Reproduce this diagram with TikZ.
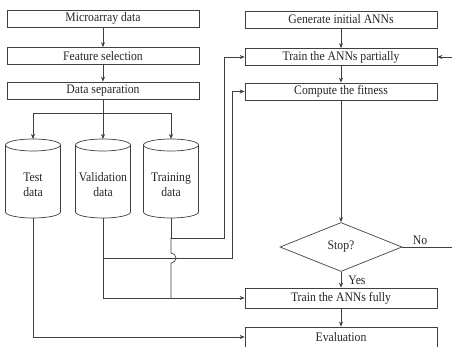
\documentclass[tikz,border=0pt]{standalone}
\usepackage{fontspec}
\setmainfont{Liberation Serif}[FakeStretch=0.9]
\usetikzlibrary{shapes.geometric,arrows.meta}
\newcommand{\drawcyl}[1]{%
  \draw[cylline] ({#1-27.5},145) -- ({#1-27.5},212) arc[start angle=180,end angle=0,x radius=27.5,y radius=6] -- ({#1+27.5},145);
  \draw[cylline] (#1,145) ellipse[x radius=27.5,y radius=6];
}
\begin{document}
\begin{tikzpicture}[x=1pt,y=-1pt,
  line/.style={draw=black!75, line width=0.7pt},
  arr/.style={line, -{Stealth[length=5pt,width=4pt]}},
  box/.style={draw=black!75, line width=0.7pt, rectangle, minimum width=192pt, minimum height=17pt, inner sep=0pt, font=\fontsize{13}{15}\selectfont, text=black!85},
  lbl/.style={font=\fontsize{13}{15}\selectfont, text=black!85, inner sep=0pt},
  cylline/.style={draw=black!75, line width=0.7pt}
]
\useasboundingbox (0,0) rectangle (452,347);
\clip (0,0) rectangle (452,347);
\fill[white] (0,0) rectangle (452,347);

% left column
\node[box] (micro) at (103,18.5) {Microarray data};
\node[box] (feat) at (103,56) {Feature selection};
\node[box] (sep) at (103,90.5) {Data separation};

% right column
\node[box] (gen) at (341,19.5) {Generate initial ANNs};
\node[box] (part) at (341,57) {Train the ANNs partially};
\node[box] (fit) at (341,91.5) {Compute the fitness};
\node[diamond, draw=black!75, line width=0.7pt, aspect=2.5, minimum width=122pt, minimum height=49pt, inner sep=0pt, font=\fontsize{13}{15}\selectfont, text=black!85] (stop) at (341,247) {Stop?};
\node[box, minimum height=20pt] (full) at (341,298) {Train the ANNs fully};
\node[box, minimum height=20pt] (eval) at (341,337) {Evaluation};

% cylinders
\drawcyl{33}
\drawcyl{103}
\drawcyl{171}
\node[lbl, align=center] (testt) at (33,185) {Test\\data};
\node[lbl, align=center] (validt) at (103,185) {Validation\\data};
\node[lbl, align=center] (traint) at (171,185) {Training\\data};
\coordinate (testtop) at (33,139);
\coordinate (validtop) at (103,139);
\coordinate (traintop) at (171,139);
\coordinate (testbot) at (33,218);
\coordinate (validbot) at (103,218);
\coordinate (trainbot) at (171,218);

% left flow
\draw[arr] (micro) -- (feat);
\draw[arr] (feat) -- (sep);
\coordinate (bl) at (33,113);
\coordinate (bm) at (103,113);
\coordinate (brr) at (171,113);
\draw[line] (sep.south) -- (bm);
\draw[line] (bl) -- (brr);
\draw[arr] (bl) -- (testtop);
\draw[arr] (bm) -- (validtop);
\draw[arr] (brr) -- (traintop);

% training data branch
\coordinate (t1) at (171,238);
\coordinate (t2) at (224,238);
\draw[arr] (trainbot) -- (t1) -- (t2) -- (t2 |- part.west) -- (part.west);
\coordinate (t3) at (trainbot |- full.west);
\draw[line] (t1) -- (171,253) arc[start angle=-90,end angle=90,radius=5] -- (t3);

% validation data branch
\coordinate (v1) at (103,258);
\coordinate (v2) at (232,258);
\draw[arr] (validbot) -- (validbot |- full.west) -- (full.west);
\draw[arr] (v1) -- (v2) -- (v2 |- fit.west) -- (fit.west);

% test data
\draw[arr] (testbot) -- (testbot |- eval.west) -- (eval.west);

% right flow
\draw[arr] (gen) -- (part);
\draw[arr] (part) -- (fit);
\draw[arr] (fit) -- (stop);
\draw[arr] (stop) -- (full);
\node[lbl] (yes) at (357,280) {Yes};
\draw[arr] (full) -- (eval);
\coordinate (nr) at (453,247);
\draw[arr] (stop.east) -- (nr) -- (nr |- part.east) -- (part.east);
\node[lbl] (no) at (420,240) {No};
\end{tikzpicture}
\end{document}
